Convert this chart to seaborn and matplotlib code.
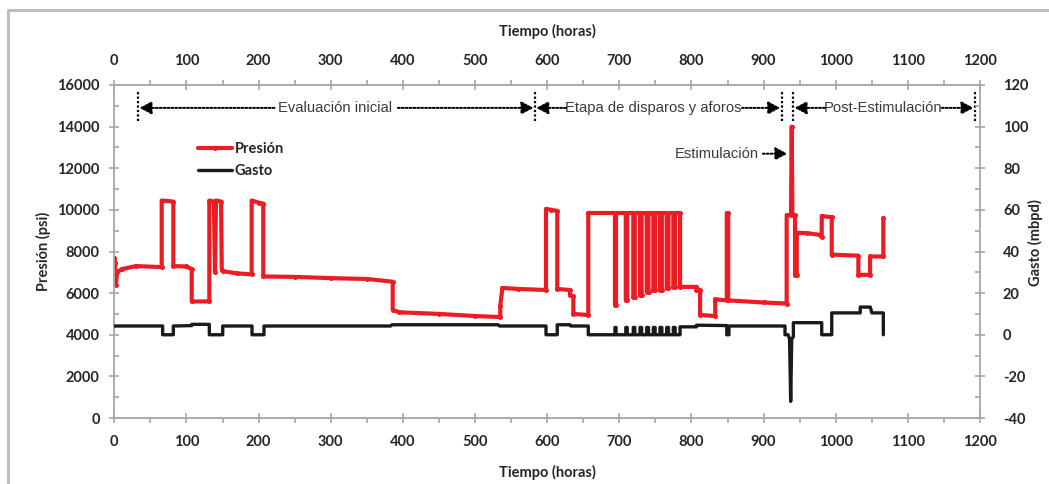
import matplotlib
matplotlib.use("Agg")
import matplotlib.pyplot as plt
import seaborn as sns
from matplotlib.ticker import MultipleLocator
from matplotlib.lines import Line2D

# ---------------- data ----------------
# Presión (psi) vs tiempo (horas), step-like record
t_presion = [0, 1, 2, 4, 10, 30, 65.7, 65.7, 81.8, 81.8, 100, 107.3, 107.3, 131.7,
             131.7, 138, 139.6, 141, 148, 149, 151.1, 170, 190.4, 190.4, 200, 206.5,
             206.5, 250, 300, 350, 385.9, 385.9, 395, 450, 500, 535, 535, 538, 560,
             598.4, 598.4, 606, 614, 614, 631.7, 631.7, 636.3, 636.3, 657, 657, 694,
             694, 695.5, 695.5, 709, 709, 711, 711, 719.4, 719.4, 721.5, 721.5, 728.7,
             728.7, 731, 731, 738, 738, 740.5, 740.5, 747.2, 747.2, 749.7, 749.7, 756.4,
             756.4, 759, 759, 765.7, 765.7, 768.2, 768.2, 774.9, 774.9, 777.4, 777.4,
             784.2, 784.2, 807, 807, 812, 812, 833, 833, 849, 849, 851, 851, 900, 932,
             932, 938, 939, 940, 943.6, 943.6, 946, 946, 960, 978, 980.6, 980.6, 994.5,
             994.5, 1031.4, 1031.4, 1047.6, 1047.6, 1066, 1066]
presion = [7700, 7450, 6400, 7000, 7150, 7300, 7250, 10450, 10400, 7300, 7280, 7150, 5600, 5600,
           10450, 10400, 7000, 10450, 10400, 7100, 7050, 6950, 6900, 10450, 10350, 10300,
           6800, 6780, 6720, 6680, 6550, 5200, 5080, 5000, 4900, 4850, 5400, 6250, 6200,
           6150, 10050, 10000, 9950, 6200, 6150, 5900, 5850, 5000, 4950, 9850, 9850,
           5450, 5450, 9850, 9850, 5650, 5650, 9850, 9850, 5830, 5830, 9850, 9850,
           5910, 5910, 9850, 9850, 6070, 6070, 9850, 9850, 6150, 6150, 9850, 9850,
           6150, 6150, 9850, 9850, 6230, 6230, 9850, 9850, 6310, 6310, 9850,
           9850, 6300, 6300, 6150, 6150, 4950, 4900, 5700, 5650, 9850, 9850, 5650, 5550, 5500,
           9750, 9750, 14000, 9750, 9750, 6850, 6850, 8900, 8880, 8800, 8700, 9700, 9650,
           7850, 7800, 6880, 6880, 7760, 7760, 9600]

# Gasto (mbpd) vs tiempo (horas)
t_gasto = [0, 67, 67, 81.8, 81.8, 107.3, 107.3, 131.7, 131.7, 150.3, 150.3, 190.9, 190.9,
           207.5, 207.5, 383, 385, 532, 534, 598.4, 598.4, 614, 614, 631.7, 633, 657, 657,
           694, 694, 695.5, 695.5, 709, 709, 711, 711, 719.4, 719.4, 721.5, 721.5, 728.7,
           728.7, 731, 731, 738, 738, 740.5, 740.5, 747.2, 747.2, 749.7, 749.7, 756.4,
           756.4, 759, 759, 765.7, 765.7, 768.2, 768.2, 774.9, 774.9, 777.4, 777.4,
           784.2, 784.2, 807, 807, 849, 849, 852, 852, 929.7, 929.7, 934, 936, 937.6,
           939, 941.3, 941.3, 980.6, 980.6, 994.5, 994.5, 1034, 1034, 1048, 1050,
           1066, 1066]
gasto = [4.2, 4.2, 0, 0, 4.2, 4.4, 5.0, 5.0, 0, 0, 4.2, 4.2, 0,
         0, 4.2, 4.2, 4.8, 4.8, 4.2, 4.2, 0, 0, 4.8, 4.8, 4.2, 4.2, 0,
         0, 3.5, 3.5, 0, 0, 3.5, 3.5, 0, 0, 3.5, 3.5, 0, 0,
         3.5, 3.5, 0, 0, 3.5, 3.5, 0, 0, 3.5, 3.5, 0, 0,
         3.5, 3.5, 0, 0, 3.5, 3.5, 0, 0, 3.5, 3.5, 0,
         0, 3.8, 3.8, 4.6, 4.4, 0, 0, 4.2, 4.2, 0, 0, -2, -32,
         -2, -1, 5.8, 5.8, 0, 0, 10.5, 10.5, 13.3, 13.3, 10.5,
         10.5, 0]

series_labels = ["Presión", "Gasto"]
x_ticks = list(range(0, 1201, 100))
y_ticks = list(range(0, 16001, 2000))
y2_ticks = list(range(-40, 121, 20))

# stage annotations
stage_lines = [33, 583, 925, 941, 1193]
stages = [(33, 583, "Evaluación inicial", 306, 222, 393),
          (583, 925, "Etapa de disparos y aforos", 747, 626, 870),
          (941, 1193, "Post-Estimulación", 1065, 985, 1147)]

RED = "#EC1C24"
BLACK = "#1A1A1A"
GRAY = "#A6A6A6"
TXT = "#262626"

# ---------------- figure ----------------
sns.set_theme(style="white")
plt.rcParams['font.family'] = ['Lato', 'DejaVu Sans']

fig = plt.figure(figsize=(10.49, 4.84), dpi=100)
ax = fig.add_axes([114.3 / 1049, 66 / 484, (980 - 114.3) / 1049, 333 / 484])
ax2 = ax.twinx()

sns.lineplot(x=t_presion, y=presion, ax=ax, estimator=None, sort=False, color=RED,
             linewidth=3.0, marker='o', markersize=3.6, markeredgewidth=0)
sns.lineplot(x=t_gasto, y=gasto, ax=ax2, estimator=None, sort=False, color=BLACK,
             linewidth=2.4)

ax.set_xlim(0, 1200)
ax.set_ylim(0, 16000)
ax2.set_ylim(-40, 120)
ax.set_xticks(x_ticks)
ax.set_yticks(y_ticks)
ax2.set_yticks(y2_ticks)
ax.xaxis.set_minor_locator(MultipleLocator(50))
ax.yaxis.set_minor_locator(MultipleLocator(1000))
ax2.yaxis.set_minor_locator(MultipleLocator(10))

tick_font = dict(fontsize=10.5, fontweight='bold', color=TXT)
ax.set_xticklabels([str(v) for v in x_ticks], **tick_font)
ax.set_yticklabels([str(v) for v in y_ticks], **tick_font)
ax2.set_yticklabels([str(v) for v in y2_ticks], **tick_font)

for a in (ax, ax2):
    for s in a.spines.values():
        s.set_color(GRAY)
        s.set_linewidth(1.3)
ax.spines['right'].set_visible(False)
for s in ('left', 'top', 'bottom'):
    ax2.spines[s].set_visible(False)

ax.tick_params(axis='x', which='major', top=True, bottom=True, labeltop=True,
               labelbottom=True, direction='inout', length=7, width=1.2, color=GRAY, pad=9)
ax.tick_params(axis='x', which='minor', top=True, bottom=True, direction='out',
               length=3.5, width=1.2, color=GRAY)
ax.tick_params(axis='y', which='major', left=True, direction='inout', length=7,
               width=1.2, color=GRAY, pad=7)
ax.tick_params(axis='y', which='minor', left=True, direction='in', length=3.5,
               width=1.2, color=GRAY)
ax2.tick_params(axis='y', which='major', right=True, direction='inout', length=7,
                width=1.2, color=GRAY, pad=13)
ax2.tick_params(axis='y', which='minor', right=True, direction='in', length=3.5,
                width=1.2, color=GRAY)

ax.set_xlabel("")
ax.set_ylabel("")
ax2.set_ylabel("")
lab_font = dict(fontsize=10.5, fontweight='bold', color=TXT)
fig.text(547 / 1049, 1 - 31 / 484, "Tiempo (horas)", ha='center', va='center', **lab_font)
fig.text(547 / 1049, 1 - 472 / 484, "Tiempo (horas)", ha='center', va='center', **lab_font)
fig.text(43 / 1049, 1 - 251 / 484, "Presión (psi)", ha='center', va='center',
         rotation=90, **lab_font)
fig.text(1035 / 1049, 1 - 243 / 484, "Gasto (mbpd)", ha='center', va='center',
         rotation=90, **lab_font)

# stage annotations
ann_font = dict(fontsize=10.6, family=['Liberation Sans', 'DejaVu Sans'], color='#3A3A3A')
ax.vlines(stage_lines, 14250, 15750, colors='black', linestyles=(0, (1, 1)), linewidth=1.6)
arrow_kw = dict(arrowstyle='-|>,head_length=0.6,head_width=0.32', color='black',
                linestyle=(0, (1, 1)), linewidth=1.4, shrinkA=0, shrinkB=1)
y_ann = 14900
for x0, x1, label, xc, tail_l, tail_r in stages:
    ax.text(xc, y_ann, label, ha='center', va='center', **ann_font)
    ax.annotate('', xy=(x0, y_ann), xytext=(tail_l, y_ann), arrowprops=arrow_kw)
    ax.annotate('', xy=(x1, y_ann), xytext=(tail_r, y_ann), arrowprops=arrow_kw)

ax.text(894, 12700, "Estimulación", ha='right', va='center', **ann_font)
ax.annotate('', xy=(935, 12700), xytext=(899, 12700), arrowprops=arrow_kw)

# legend
h_p = ax.get_lines()[0]
h_g = ax2.get_lines()[0]
leg = ax2.legend([h_p, h_g], series_labels, loc='upper left',
                 bbox_to_anchor=(0.0969, 0.83), frameon=False, borderaxespad=0,
                 borderpad=0, handlelength=2.35, handletextpad=0.15, labelspacing=0.55,
                 prop=dict(family='Lato', weight='bold', size=10.5))
for t in leg.get_texts():
    t.set_color(TXT)

# outer frame (top and left border)
fig.add_artist(Line2D([7.5 / 1049, 7.5 / 1049, 1.0], [0.0, 1 - 10 / 484, 1 - 10 / 484],
                      transform=fig.transFigure, color='#BFBFBF', linewidth=2.2))

fig.savefig("out.png", dpi=100)
